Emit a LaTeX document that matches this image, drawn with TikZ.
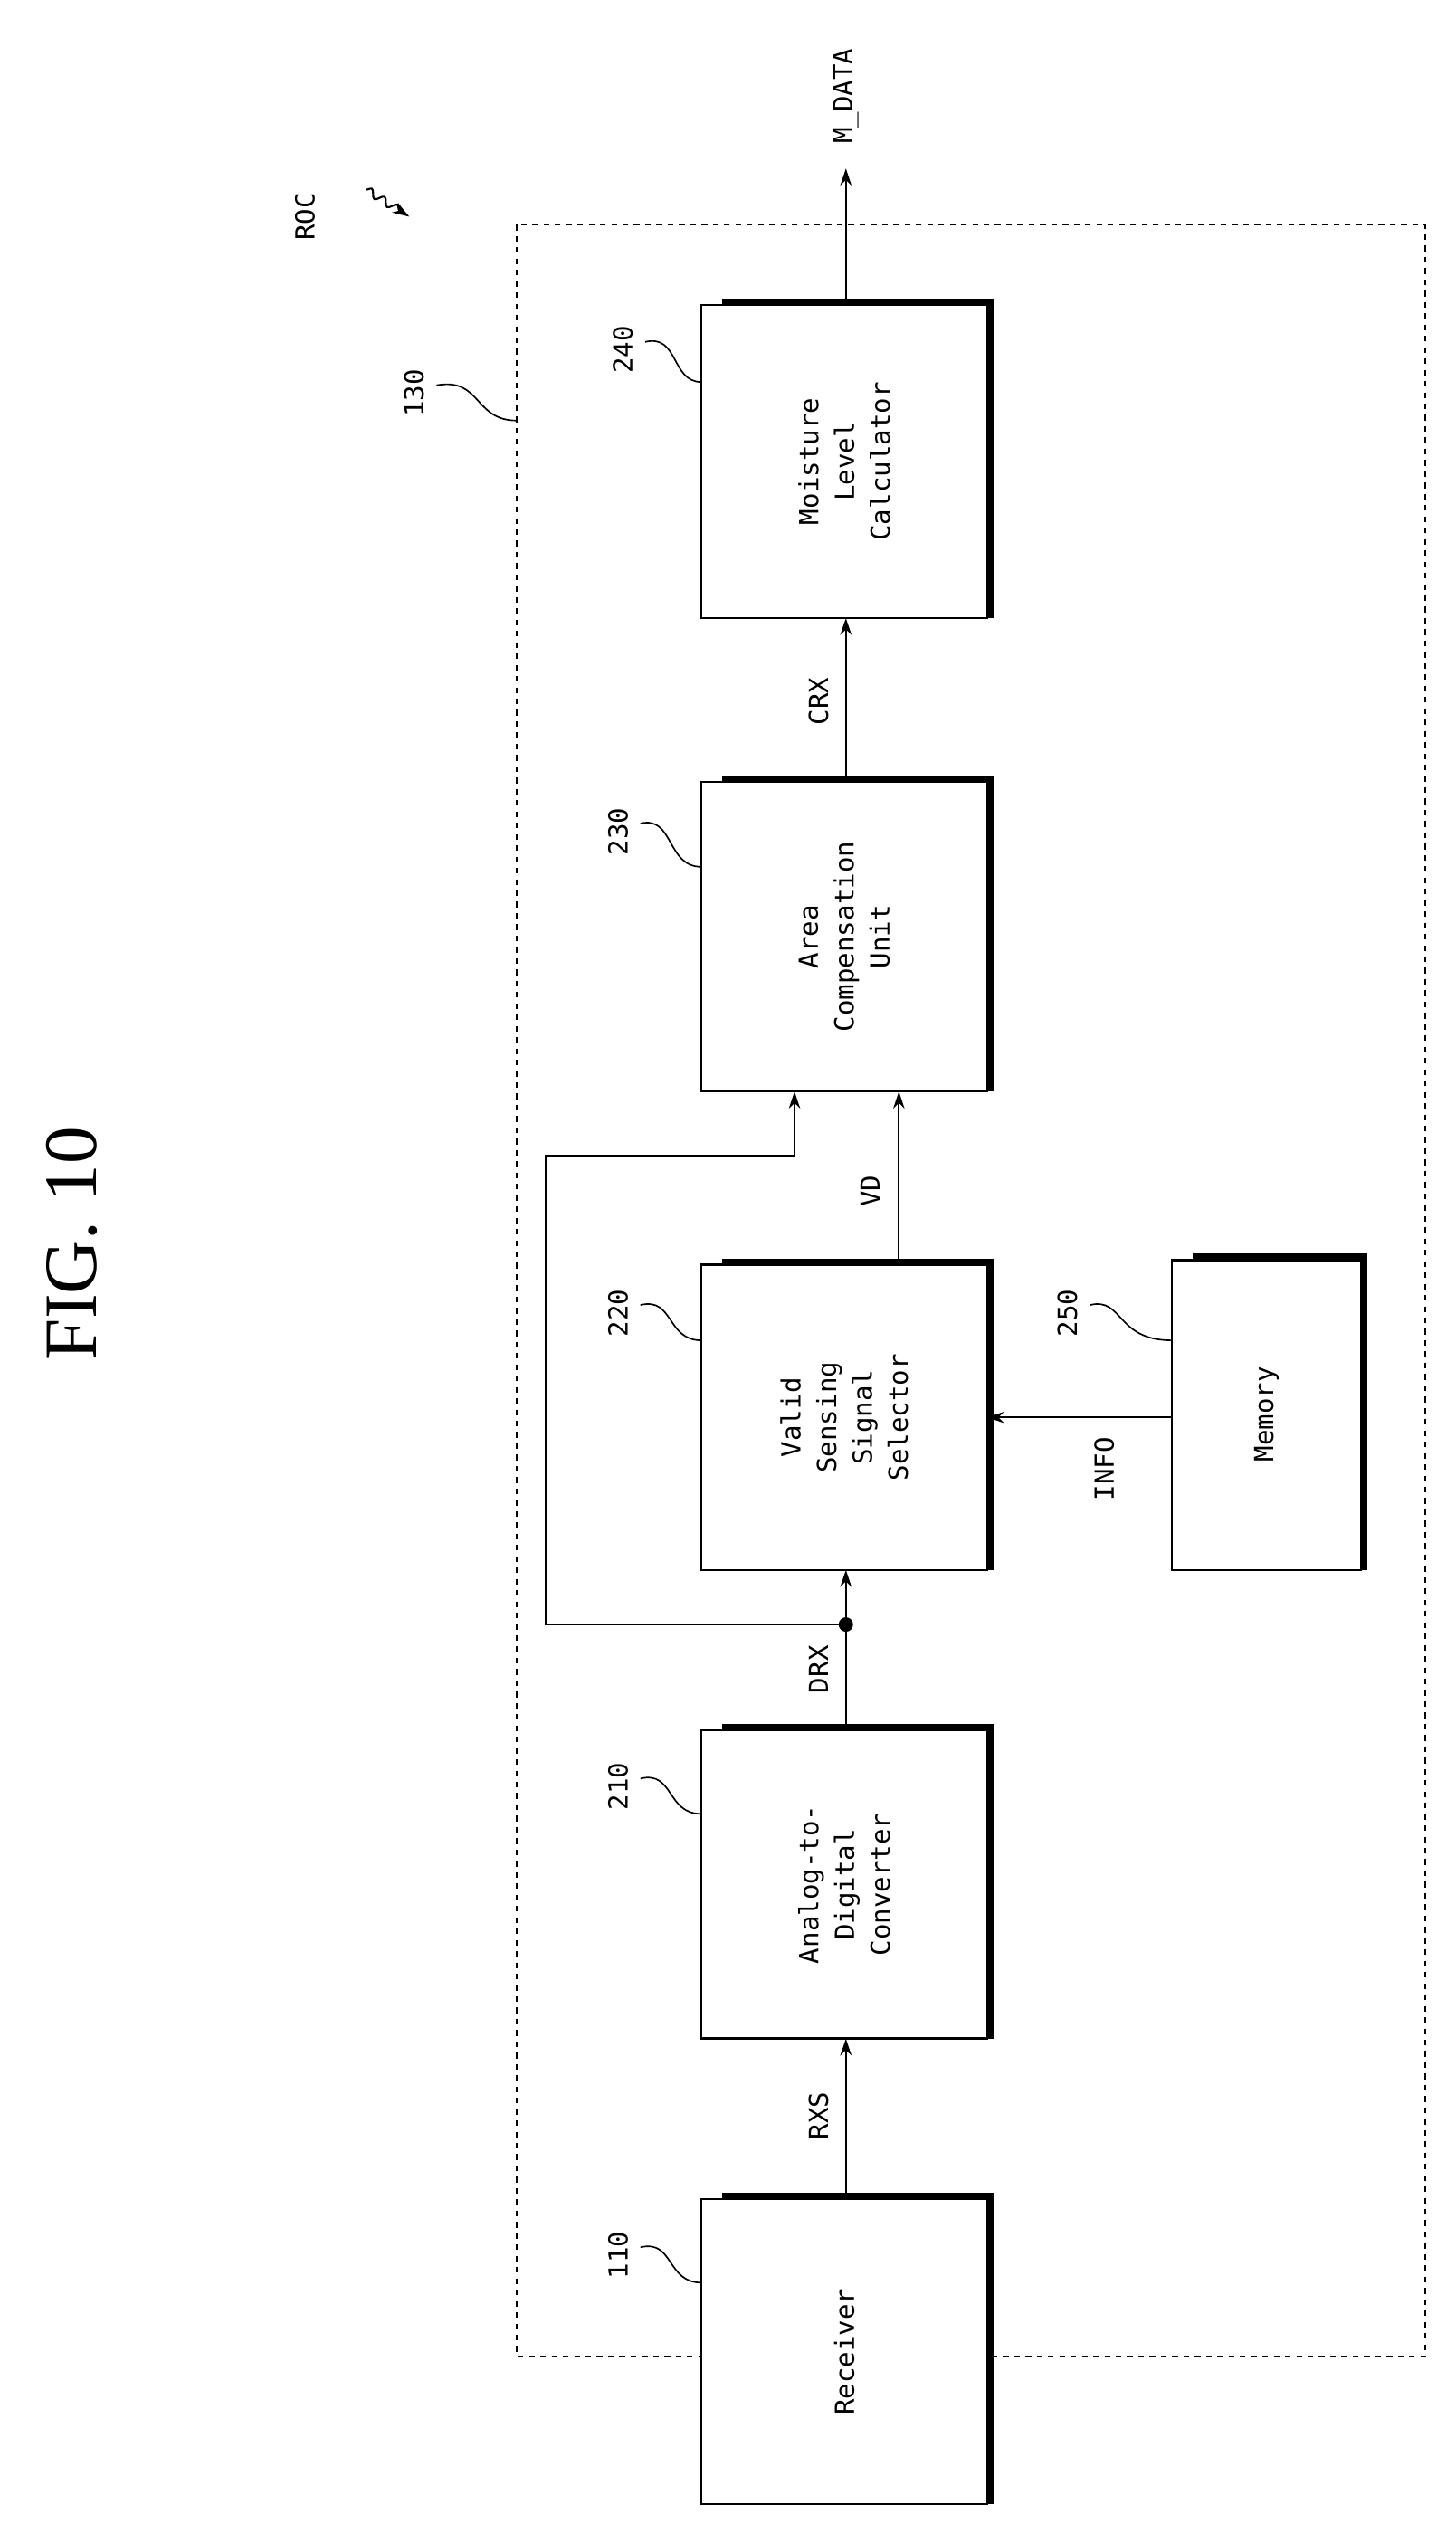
\documentclass[tikz,border=0pt]{standalone}
\usepackage{fontspec}
\setmainfont{DejaVu Sans Mono}
\usetikzlibrary{arrows.meta,decorations.pathmorphing}
\begin{document}
\begin{tikzpicture}[x=0.03cm,y=-0.03cm,
 blk/.style={draw,line width=1.2pt,fill=white},
 shd/.style={line width=3.5pt},
 txt/.style={rotate=90,align=center,font=\fontsize{14}{19}\selectfont},
 lbl/.style={rotate=90,font=\fontsize{14}{16}\selectfont},
 arr/.style={-{Stealth[length=9pt,width=6pt]},line width=1pt},
 lead/.style={line width=0.8pt}]
\useasboundingbox (0,0) rectangle (907,1578);
\node[rotate=90,font=\fontsize{40}{40}\fontspec{Liberation Serif}] (fig) at (45,775) {FIG. 10};
\draw[dashed,line width=0.9pt] (322,140) rectangle (888,1468);
\node[lbl] (roc) at (190,135) {ROC};
\coordinate (rs) at (228,118); \coordinate (re) at (255,135);
\draw[arr,decoration={snake,amplitude=2pt,segment length=8pt,post length=6pt},decorate] (rs) -- (re);
\node[lbl] (l130) at (258,245) {130};
\coordinate (b130) at (322,262);
\draw[lead] (272,240) .. controls (300,235) and (295,262) .. (b130);
% blocks
\foreach \n/\yt/\yb in {b240/190/385,b230/487/680,b220/788/978,b210/1078/1270,b110/1370/1560}{
 \draw[shd] (450,\yt-2) -- (617,\yt-2) -- (617,\yb);
 \draw[blk] (437,\yt) rectangle (615,\yb);
 \coordinate (\n) at (526,{(\yt+\yb)/2});
}
\draw[shd] (743,783) -- (850,783) -- (850,978);
\draw[blk] (730,785) rectangle (848,978);
\coordinate (b250) at (789,881);
\node[txt] (t240) at (b240) {Moisture\\Level\\Calculator};
\node[txt] (t230) at (b230) {Area\\Compensation\\Unit};
\node[txt] (t220) at (b220) {Valid\\Sensing\\Signal\\Selector};
\node[txt] (t210) at (b210) {Analog-to-\\Digital\\Converter};
\node[txt] (t110) at (b110) {Receiver};
\node[txt] (t250) at (b250) {Memory};
% ref labels
\foreach \t/\x/\y/\tx/\ty in {240/388/218/437/238,230/385/518/437/540,220/385/818/437/835,250/665/818/730/835,210/385/1113/437/1130,110/385/1405/437/1422}{
 \node[lbl] (r\t) at (\x,\y) {\t};
 \draw[lead] (\x+14,\y-5) .. controls (\x+35,\y-10) and (\x+30,\ty) .. (\tx,\ty);
}
% connectors
\coordinate (p110) at (527,1370); \coordinate (p210b) at (527,1270);
\draw[arr] (p110) -- (p210b);
\node[lbl] (lrxs) at (510,1318) {RXS};
\coordinate (p210t) at (527,1078); \coordinate (p220b) at (527,978); \coordinate (dot) at (527,1012);
\draw[arr] (p210t) -- (p220b);
\fill (dot) circle (4.5);
\node[lbl] (ldrx) at (510,1040) {DRX};
\coordinate (c1) at (340,1012); \coordinate (c2) at (340,720); \coordinate (c3) at (495,720); \coordinate (p230a) at (495,680);
\draw[arr] (dot) -- (c1) -- (c2) -- (c3) -- (p230a);
\coordinate (p220t) at (560,788); \coordinate (p230b) at (560,680);
\draw[arr] (p220t) -- (p230b);
\node[lbl] (lvd) at (542,742) {VD};
\coordinate (p230t) at (527,487); \coordinate (p240b) at (527,385);
\draw[arr] (p230t) -- (p240b);
\node[lbl] (lcrx) at (510,437) {CRX};
\coordinate (p240t) at (527,190); \coordinate (pout) at (527,105);
\draw[arr] (p240t) -- (pout);
\node[lbl] (lmd) at (527,60) {M\_DATA};
\coordinate (p250) at (730,883); \coordinate (p220r) at (615,883);
\draw[arr] (p250) -- (p220r);
\node[lbl] (linfo) at (688,915) {INFO};
\end{tikzpicture}
\end{document}
